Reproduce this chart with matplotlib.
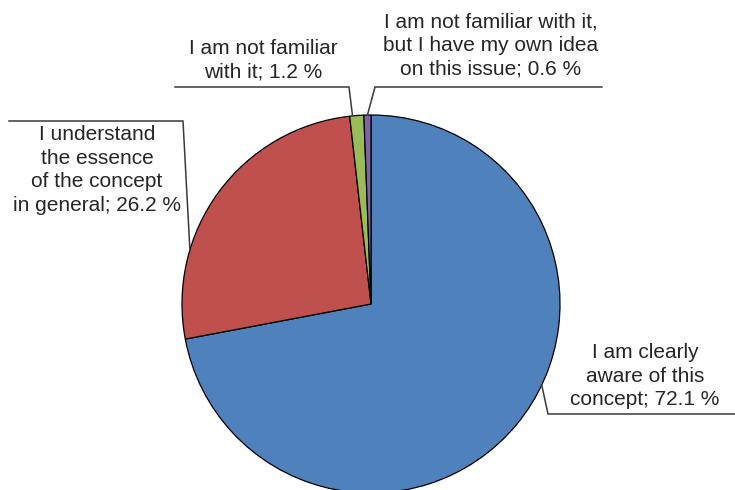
import matplotlib.pyplot as plt
import numpy as np

labels = ["I am clearly\naware of this\nconcept; 72.1 %",
          "I understand\nthe essence\nof the concept\nin general; 26.2 %",
          "I am not familiar\nwith it; 1.2 %",
          "I am not familiar with it,\nbut I have my own idea\non this issue; 0.6 %"]
shares = [72.1, 26.2, 1.2, 0.6]
colors = ["#4F81BD", "#C0504D", "#9BBB59", "#8064A2"]

W, H = 735, 490
fig = plt.figure(figsize=(W / 100, H / 100), dpi=100)
ax = fig.add_axes([0, 0, 1, 1])

cx, cy, r = 371, H - 304, 189
ax.pie(shares, colors=colors, startangle=90, counterclock=False,
       center=(cx, cy), radius=r, frame=True,
       wedgeprops=dict(edgecolor="black", linewidth=0.9))
ax.set_xlim(0, W)
ax.set_ylim(0, H)
ax.set_aspect("equal")
ax.axis("off")

# label layout (pixels from top-left): text centre, elbow, end of shelf, where on wedge
layout = [
    dict(text=(645, 376), elbow=(548, 414), shelf=735, frac=0.445),
    dict(text=(97, 170), elbow=(183, 121), shelf=9, frac=0.29),
    dict(text=(263, 60), elbow=(349, 87), shelf=175, frac=0.2),
    dict(text=(491, 46), elbow=(375, 87), shelf=602, frac=0.5),
]

start = 90.0
for share, lab, lay in zip(shares, labels, layout):
    sweep = share / sum(shares) * 360
    ang = np.deg2rad(start - lay["frac"] * sweep)
    start -= sweep
    px, py = cx + r * np.cos(ang), cy + r * np.sin(ang)
    ex, ey = lay["elbow"][0], H - lay["elbow"][1]
    ax.plot([px, ex, lay["shelf"]], [py, ey, ey], color="#3a3a3a", lw=1.1,
            solid_joinstyle="miter")
    tx, ty = lay["text"]
    ax.text(tx, H - ty, lab, ha="center", va="center", fontsize=15,
            family="Liberation Sans", color="#262626", linespacing=1.3)

fig.savefig("out.png", dpi=100)
